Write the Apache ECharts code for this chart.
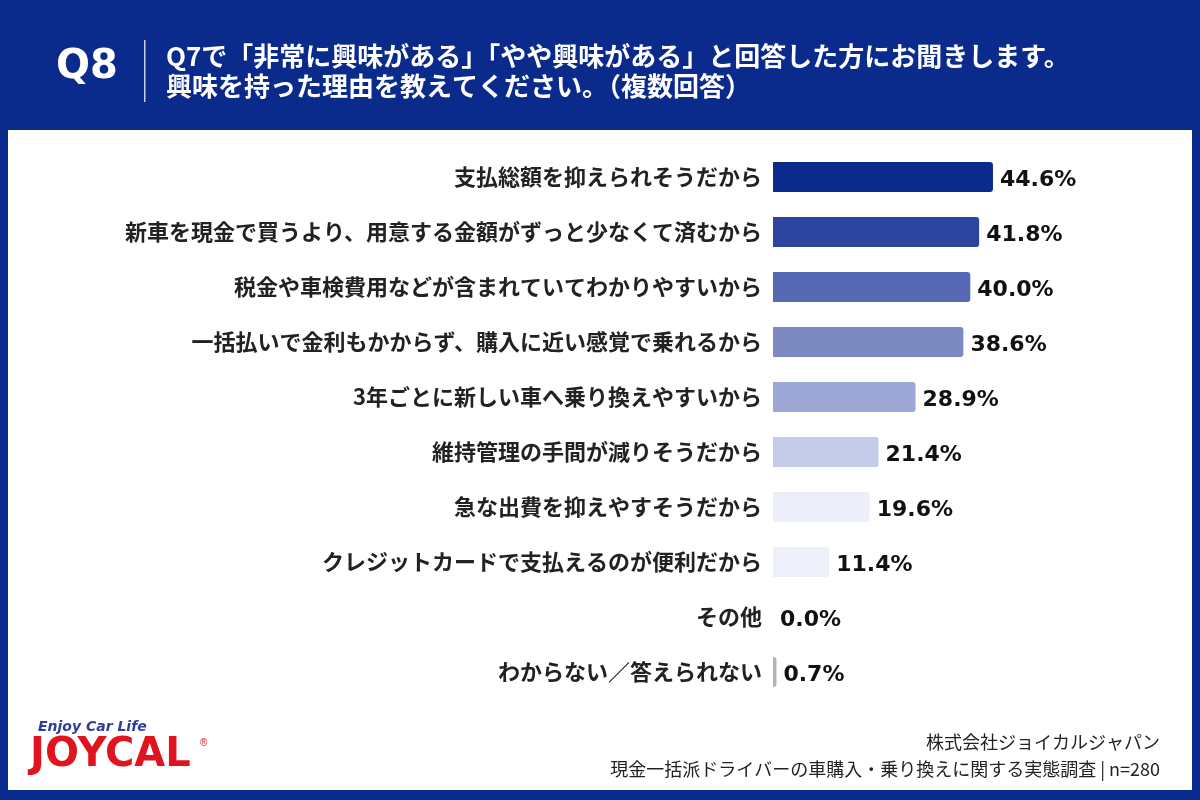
<!DOCTYPE html>
<html>
<head>
<meta charset="utf-8">
<script src="https://cdn.jsdelivr.net/npm/echarts@6/dist/echarts.min.js"></script>
<style>
  html, body { margin: 0; padding: 0; background: #0b2b8c; }
  #chart { width: 1200px; height: 800px; }
</style>
</head>
<body>
<div id="chart"></div>
<script>
var categories = [
  '支払総額を抑えられそうだから',
  '新車を現金で買うより、用意する金額がずっと少なくて済むから',
  '税金や車検費用などが含まれていてわかりやすいから',
  '一括払いで金利もかからず、購入に近い感覚で乗れるから',
  '3年ごとに新しい車へ乗り換えやすいから',
  '維持管理の手間が減りそうだから',
  '急な出費を抑えやすそうだから',
  'クレジットカードで支払えるのが便利だから',
  'その他',
  'わからない／答えられない'
];
var values = [44.6, 41.8, 40.0, 38.6, 28.9, 21.4, 19.6, 11.4, 0.0, 0.7];
var barColors = ['#0b2a8c', '#2d449e', '#5668b6', '#7d89c1', '#9ea8d6', '#c4cbe9', '#eceef8', '#edeff9', '#edeff9', '#b4b4b8'];

var jp = '"Noto Sans CJK JP", sans-serif';
var blue = '#0b2b8c';

var chart = echarts.init(document.getElementById('chart'));
chart.setOption({
  backgroundColor: blue,
  animation: false,
  graphic: [
    { type: 'rect', shape: { x: 8, y: 130, width: 1184, height: 660 }, style: { fill: '#ffffff' }, z: -10 },
    { type: 'text', left: 56, top: 48, style: { text: 'Q8', fill: '#ffffff', font: 'bold 40px "DejaVu Sans", sans-serif' } },
    { type: 'rect', shape: { x: 144, y: 40, width: 1.5, height: 62 }, style: { fill: '#c9d0ea' } },
    { type: 'text', left: 166, top: 43, style: { text: 'Q7で「非常に興味がある」「やや興味がある」と回答した方にお聞きします。', fill: '#ffffff', font: 'bold 26px ' + jp } },
    { type: 'text', left: 166, top: 73, style: { text: '興味を持った理由を教えてください。（複数回答）', fill: '#ffffff', font: 'bold 26px ' + jp } },
    { type: 'text', left: 38, top: 720, style: { text: 'Enjoy Car Life', fill: '#2b3f9a', font: 'italic bold 14px "DejaVu Sans", sans-serif' } },
    { type: 'text', left: 30, top: 736, style: { text: 'JOYCAL', fill: '#e0141f', font: 'bold 40px "DejaVu Sans", sans-serif' } },
    { type: 'text', left: 200, top: 738, style: { text: '®', fill: '#e0141f', font: '10px sans-serif' } },
    { type: 'text', right: 40, top: 733, style: { text: '株式会社ジョイカルジャパン', fill: '#222222', font: '18px ' + jp, align: 'right' } },
    { type: 'text', right: 40, top: 760, style: { text: '現金一括派ドライバーの車購入・乗り換えに関する実態調査 | n=280', fill: '#222222', font: '18px ' + jp, align: 'right' } }
  ],
  grid: { left: 773, right: 180.4, top: 149.5, bottom: 100.5, containLabel: false },
  xAxis: {
    type: 'value', min: 0, max: 50,
    show: false
  },
  yAxis: {
    type: 'category',
    data: categories,
    inverse: true,
    axisLine: { show: false },
    axisTick: { show: false },
    axisLabel: { color: '#222222', fontFamily: jp, fontWeight: 'bold', fontSize: 22, margin: 11 }
  },
  series: [{
    type: 'bar',
    barWidth: 30,
    data: values.map(function (v, i) {
      return { value: v, itemStyle: { color: barColors[i], borderRadius: [0, 3, 3, 0] } };
    }),
    label: {
      show: true,
      position: 'right',
      distance: 7,
      offset: [0, 3],
      color: '#111111',
      fontFamily: '"DejaVu Sans", sans-serif',
      fontWeight: 'bold',
      fontSize: 22,
      formatter: function (p) { return p.value.toFixed(1) + '%'; }
    }
  }]
});
</script>
</body>
</html>
